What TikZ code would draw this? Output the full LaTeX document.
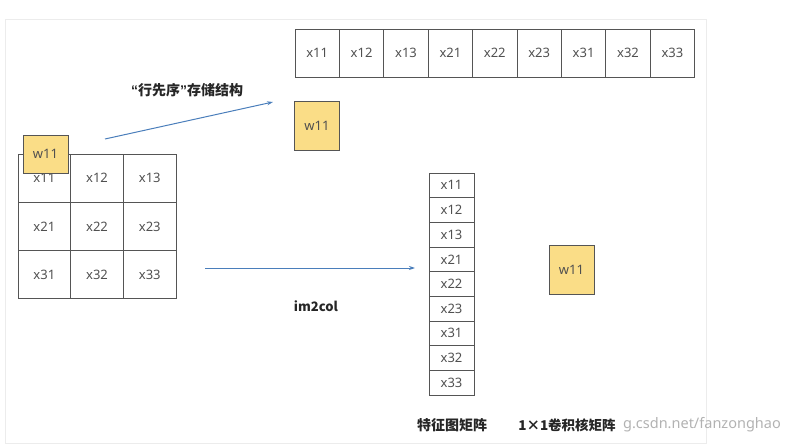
\documentclass[tikz,border=0pt]{standalone}
\usepackage{fontspec}
\setmainfont{Noto Sans}
\newfontfamily\cjk{Noto Sans CJK SC}
\newfontfamily\qfont{Liberation Sans}
\usetikzlibrary{arrows.meta}
\definecolor{cellline}{RGB}{85,85,85}
\definecolor{celltext}{RGB}{80,80,80}
\definecolor{wfill}{RGB}{250,221,135}
\definecolor{arrowblue}{RGB}{74,126,187}
\definecolor{framegray}{RGB}{236,236,236}
\tikzset{
  cell/.style={draw=cellline, line width=0.9pt, inner sep=0pt, text=celltext,
    font=\fontsize{13}{15}\selectfont},
  wbox/.style={cell, fill=wfill, minimum width=45pt},
  conn/.style={draw=arrowblue, line width=1pt, -{Stealth[length=6pt,width=4pt]}},
  lbl/.style={font=\cjk\bfseries\fontsize{14}{16}\selectfont, text=black!85, inner sep=0pt},
}
\begin{document}
\begin{tikzpicture}[x=1pt,y=-1pt]
\useasboundingbox (0,0) rectangle (790,444);
\draw[framegray, line width=0.8pt] (5,19) rectangle (706,443);
% watermark (visible part)
\node[anchor=east, text=black!30, font=\fontsize{14.5}{17}\selectfont, inner sep=0pt] (wm) at (781,425) {g.csdn.net/fanzonghao};
% top row
\foreach \t [count=\i] in {11,12,13,21,22,23,31,32,33}{
  \node[cell, minimum width=44.4pt, minimum height=48pt] (t\t) at ({295+44.4*(\i-0.5)},53) {x\t};
}
\node[wbox, minimum height=49pt] (wtop) at (317,125.5) {w11};
% grid
\foreach \r in {1,2,3}{
  \foreach \c in {1,2,3}{
    \node[cell, minimum width=52.7pt, minimum height=48.3pt] (g\r\c) at ({18+52.7*(\c-0.5)},{154+48.3*(\r-0.5)}) {x\r\c};
  }
}
\node[wbox, minimum height=38pt] (wgrid) at (45.5,154) {w11};
% column
\foreach \t [count=\i] in {11,12,13,21,22,23,31,32,33}{
  \node[cell, minimum width=45pt, minimum height=24.67pt] (c\t) at (451.5,{173+24.67*(\i-0.5)}) {x\t};
}
\node[wbox, minimum height=49pt] (wcol) at (571.5,269.5) {w11};
% arrows
\coordinate (a1s) at (105,139);
\coordinate (a1e) at (273,102);
\coordinate (a2s) at (205,268);
\coordinate (a2e) at (415,268);
\draw[conn] (a1s) -- (a1e);
\draw[conn] (a2s) -- (a2e);
% labels
\node[lbl] (l1) at (187,90) {{\qfont\bfseries “}行先序{\qfont\bfseries ”}存储结构};
\node[lbl, font=\cjk\bfseries\fontsize{13}{15}\selectfont] (l2) at (316,306) {im2col};
\node[lbl] (l3) at (452,425) {特征图矩阵};
\node[lbl, font=\cjk\bfseries\fontsize{13.5}{16}\selectfont] (l4) at (567,425) {1×1卷积核矩阵};
\end{tikzpicture}
\end{document}
